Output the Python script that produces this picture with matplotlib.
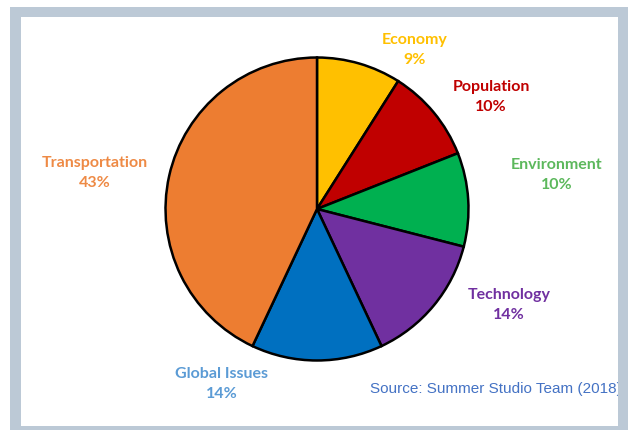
import matplotlib.pyplot as plt
from matplotlib.patches import Rectangle

# datos del grafico
categories = ['Economy', 'Population', 'Environment', 'Technology', 'Global Issues', 'Transportation']
values = [9, 10, 10, 14, 14, 43]
wedge_colors = ['#FFC000', '#C00000', '#00B050', '#7030A0', '#0070C0', '#ED7D31']
label_colors = ['#FFC000', '#C00000', '#5CB85C', '#7030A0', '#5B9BD5', '#EE8A45']
# posicion de cada etiqueta en pixeles (x, y desde arriba)
label_pos = [(415, 50), (491, 97), (557, 175), (509, 305), (222, 384), (95, 173)]

W, H = 628, 431
fig = plt.figure(figsize=(W / 100, H / 100), dpi=100)
fig.patch.set_facecolor('white')

# pastel centrado en (317, 210) con radio 153 px
cx, cy, r = 317, 210, 153
ax = fig.add_axes([(cx - r) / W, (H - cy - r) / H, 2 * r / W, 2 * r / H])
ax.pie(values, colors=wedge_colors, startangle=90, counterclock=False,
       wedgeprops=dict(edgecolor='black', linewidth=1.8))
ax.set_xlim(-1.01, 1.01)
ax.set_ylim(-1.01, 1.01)
ax.axis('off')

# etiquetas
for name, v, c, (x, y) in zip(categories, values, label_colors, label_pos):
    fig.text(x / W, 1 - y / H, f'{name}\n{v}%', ha='center', va='center',
             color=c, fontsize=11.5, fontweight='bold', family='Lato',
             linespacing=1.55)

fig.text(370 / W, 1 - 389 / H, 'Source: Summer Studio Team (2018)',
         ha='left', va='center', color='#4472C4', fontsize=11,
         family='Liberation Sans')

# marco gris
gray = '#BCC9D6'
for (x0, y0, x1, y1) in [(10, 8, 21, 431), (10, 8, 628, 18), (618, 8, 628, 431), (10, 427, 628, 431)]:
    fig.add_artist(Rectangle((x0 / W, 1 - y1 / H), (x1 - x0) / W, (y1 - y0) / H,
                             transform=fig.transFigure, facecolor=gray,
                             edgecolor='none', zorder=10))

fig.savefig('out.png', dpi=100)
